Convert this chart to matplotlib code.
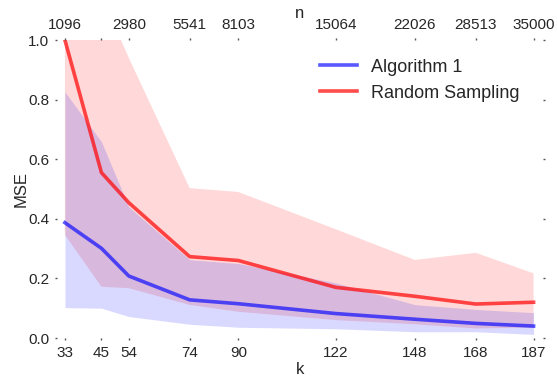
import matplotlib
matplotlib.use('Agg')
import matplotlib.pyplot as plt

plt.rcParams['font.family'] = ['Liberation Sans', 'DejaVu Sans']

k = [33, 45, 54, 74, 90, 122, 148, 168, 187]
n_labels = ['1096', '', '2980', '5541', '8103', '15064', '22026', '28513', '35000']

alg_mean = [0.387, 0.301, 0.208, 0.128, 0.115, 0.082, 0.063, 0.049, 0.040]
alg_lower = [0.102, 0.100, 0.072, 0.046, 0.036, 0.031, 0.021, 0.021, 0.012]
alg_upper = [0.826, 0.659, 0.440, 0.263, 0.250, 0.185, 0.112, 0.096, 0.085]

rs_mean = [1.0, 0.555, 0.454, 0.273, 0.260, 0.170, 0.140, 0.114, 0.120]
rs_lower = [0.346, 0.172, 0.167, 0.111, 0.088, 0.060, 0.046, 0.032, 0.035]
rs_upper = [1.5, 1.15, 0.94, 0.503, 0.490, 0.365, 0.262, 0.286, 0.217]

text_color = '#262626'
tick_color = '#555555'

fig = plt.figure(figsize=(5.57, 3.79), dpi=100)
ax = fig.add_axes([57/557, 1 - 338/379, (543-57)/557, (338-40)/379])

ax.fill_between(k, rs_lower, rs_upper, color='red', alpha=0.15, linewidth=0)
ax.fill_between(k, alg_lower, alg_upper, color='blue', alpha=0.15, linewidth=0)
ax.plot(k, alg_mean, color='blue', alpha=0.65, linewidth=2.6, label='Algorithm 1')
ax.plot(k, rs_mean, color='red', alpha=0.7, linewidth=2.6, label='Random Sampling')

ax.set_xlim(30.4, 190.1)
ax.set_ylim(0, 1.0)
ax.set_xticks(k)
ax.set_xticklabels([str(v) for v in k])
ax.set_yticks([0.0, 0.2, 0.4, 0.6, 0.8, 1.0])
ax.set_yticklabels(['0.0', '0.2', '0.4', '0.6', '0.8', '1.0'])
for s in ax.spines.values():
    s.set_visible(False)
ax.tick_params(axis='both', which='both', length=1.5, width=1, color=tick_color,
               labelsize=11, labelcolor=text_color, pad=4, right=True)
ax.set_xlabel('k', fontsize=12, color=text_color, labelpad=2)
ax.set_ylabel('MSE', fontsize=12, color=text_color, labelpad=0)

ax2 = ax.twiny()
ax2.set_xlim(ax.get_xlim())
ax2.set_xticks(k)
ax2.set_xticklabels(n_labels)
for s in ax2.spines.values():
    s.set_visible(False)
ax2.tick_params(axis='x', length=1.5, width=1, color=tick_color,
                labelsize=11, labelcolor=text_color, pad=4)
ax2.set_xlabel('n', fontsize=12, color=text_color, labelpad=0)

leg = ax.legend(loc='upper right', fontsize=13, frameon=False,
                bbox_to_anchor=(0.985, 0.992))
for t in leg.get_texts():
    t.set_color(text_color)

fig.savefig('out.png', dpi=100)
